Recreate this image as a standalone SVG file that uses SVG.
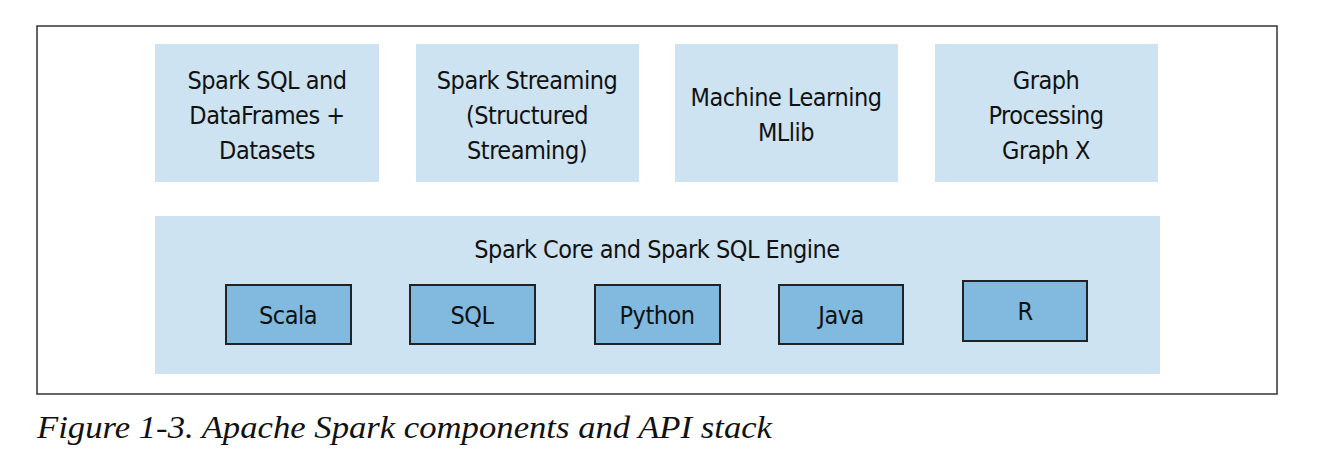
<svg xmlns="http://www.w3.org/2000/svg" width="1324" height="462" viewBox="0 0 1324 462">
<style>
.frame{fill:#fff;stroke:#333;stroke-width:1.5}
.light{fill:#cde3f1}
.dark{fill:#82b9de;stroke:#222;stroke-width:2}
.t{font-family:"DejaVu Sans Condensed","Liberation Sans",sans-serif;font-size:25px;letter-spacing:-0.5px;fill:#111;text-anchor:middle}
.cap{font-family:"Liberation Serif",serif;font-style:italic;font-size:32px;fill:#111}
</style>
<rect class="frame" x="37" y="26" width="1240" height="368"/>
<g id="sparksql">
<rect class="light" x="155" y="44" width="224" height="138"/>
<text class="t" x="267" y="89">Spark SQL and</text>
<text class="t" x="267" y="124">DataFrames +</text>
<text class="t" x="267" y="159">Datasets</text>
</g>
<g id="streaming">
<rect class="light" x="416" y="44" width="223" height="138"/>
<text class="t" x="527" y="89">Spark Streaming</text>
<text class="t" x="527" y="124">(Structured</text>
<text class="t" x="527" y="159">Streaming)</text>
</g>
<g id="mllib">
<rect class="light" x="675" y="44" width="223" height="138"/>
<text class="t" x="786" y="106">Machine Learning</text>
<text class="t" x="786" y="141">MLlib</text>
</g>
<g id="graphx">
<rect class="light" x="935" y="44" width="223" height="138"/>
<text class="t" x="1046" y="89">Graph</text>
<text class="t" x="1046" y="124">Processing</text>
<text class="t" x="1046" y="159">Graph X</text>
</g>
<g id="core">
<rect class="light" x="155" y="216" width="1005" height="158"/>
<text class="t" x="657" y="258">Spark Core and Spark SQL Engine</text>
</g>
<g id="scala">
<rect class="dark" x="226" y="285" width="125" height="59"/>
<text class="t" x="288" y="324">Scala</text>
</g>
<g id="sql">
<rect class="dark" x="410" y="285" width="125" height="59"/>
<text class="t" x="472" y="324">SQL</text>
</g>
<g id="python">
<rect class="dark" x="595" y="285" width="125" height="59"/>
<text class="t" x="657" y="324">Python</text>
</g>
<g id="java">
<rect class="dark" x="779" y="285" width="124" height="59"/>
<text class="t" x="841" y="324">Java</text>
</g>
<g id="r">
<rect class="dark" x="963" y="281" width="124" height="60"/>
<text class="t" x="1025" y="320">R</text>
</g>
<g id="connectors"/>
<text class="cap" x="37" y="438" textLength="735" lengthAdjust="spacingAndGlyphs">Figure 1-3. Apache Spark components and API stack</text>
</svg>
